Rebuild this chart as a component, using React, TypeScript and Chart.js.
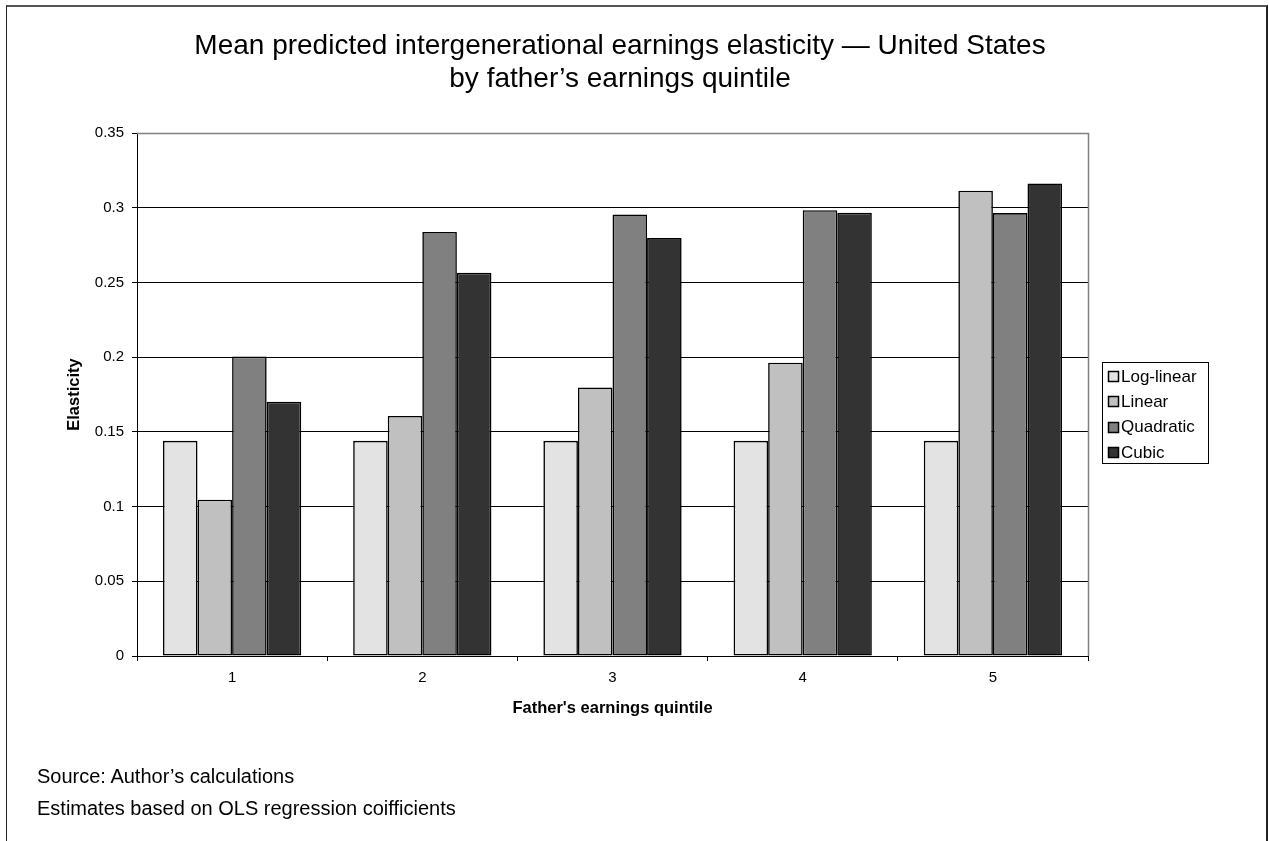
import React, { useEffect, useRef } from "react";
import { Chart, registerables } from "chart.js";

Chart.register(...registerables);

const FONT = '"Liberation Sans", Arial, Helvetica, sans-serif';

const categories = ["1", "2", "3", "4", "5"];
const seriesNames = ["Log-linear", "Linear", "Quadratic", "Cubic"];
const seriesColors = ["#e3e3e3", "#c0c0c0", "#808080", "#333333"];
const logLinear = [0.144, 0.144, 0.144, 0.144, 0.144];
const linear = [0.1046, 0.1606, 0.1797, 0.1963, 0.3114];
const quadratic = [0.2004, 0.2838, 0.2955, 0.2983, 0.2964];
const cubic = [0.1702, 0.2564, 0.2797, 0.2966, 0.3162];
const yMin = 0;
const yMax = 0.35;
const yStep = 0.05;
const titleLines = [
  "Mean predicted intergenerational earnings elasticity \u2014 United States",
  "by father\u2019s earnings quintile",
];
const yTitle = "Elasticity";
const xTitle = "Father's earnings quintile";
const footnotes = [
  "Source: Author\u2019s calculations",
  "Estimates based on OLS regression coifficients",
];

const decorPlugin = {
  id: "decor",
  afterDraw(chart: any) {
    const { ctx, chartArea } = chart;
    ctx.save();
    // plot area border (top and right, grey)
    ctx.strokeStyle = "#808080";
    ctx.lineWidth = 1.5;
    ctx.beginPath();
    ctx.moveTo(chartArea.left, chartArea.top + 0.5);
    ctx.lineTo(Math.round(chartArea.right) + 0.5, chartArea.top + 0.5);
    ctx.lineTo(Math.round(chartArea.right) + 0.5, chartArea.bottom);
    ctx.stroke();

    // title
    ctx.fillStyle = "#000";
    ctx.font = `28px ${FONT}`;
    ctx.textAlign = "center";
    ctx.textBaseline = "middle";
    ctx.fillText(titleLines[0], 620, 46);
    ctx.fillText(titleLines[1], 620, 79);

    // legend
    const bx = Math.round(chartArea.right) + 14;
    const by = 362;
    const bw = 106;
    const bh = 101;
    ctx.strokeStyle = "#000";
    ctx.lineWidth = 1;
    ctx.strokeRect(bx + 0.5, by + 0.5, bw, bh);
    ctx.font = `17px ${FONT}`;
    ctx.textAlign = "left";
    chart.data.datasets.forEach((ds: any, i: number) => {
      const cy = by + 14 + i * 25.3;
      ctx.fillStyle = ds.backgroundColor;
      ctx.fillRect(bx + 6, Math.round(cy - 5), 11, 11);
      ctx.strokeStyle = "#000";
      ctx.lineWidth = 1.5;
      ctx.strokeRect(bx + 6.5, Math.round(cy - 5) + 0.5, 10, 10);
      ctx.fillStyle = "#000";
      ctx.fillText(ds.label, bx + 19, cy + 1);
    });
    ctx.restore();
  },
};

export default function App() {
  const canvasRef = useRef<HTMLCanvasElement | null>(null);

  useEffect(() => {
    if (!canvasRef.current) return;
    const seriesValues = [logLinear, linear, quadratic, cubic];
    const chart = new Chart(canvasRef.current, {
      type: "bar",
      data: {
        labels: categories,
        datasets: seriesNames.map((name, i) => ({
          label: name,
          data: seriesValues[i],
          backgroundColor: seriesColors[i],
          borderColor: "#000",
          borderWidth: 1.6,
          borderSkipped: false,
          barPercentage: 1,
          categoryPercentage: 0.727,
        })),
      },
      options: {
        responsive: false,
        animation: false,
        devicePixelRatio: 1,
        layout: { padding: { left: 0, right: 181, top: 133, bottom: 115 } },
        plugins: {
          legend: { display: false },
          title: { display: false },
          tooltip: { enabled: false },
        },
        scales: {
          x: {
            offset: true,
            afterFit: (scale: any) => {
              scale.height = 70;
            },
            grid: {
              offset: true,
              drawOnChartArea: false,
              drawTicks: true,
              tickLength: 5,
              tickColor: "#000",
              color: "#000",
            },
            border: { display: true, color: "#000", width: 1 },
            ticks: {
              color: "#000",
              font: { family: FONT, size: 15 },
              padding: 8,
            },
            title: {
              display: true,
              text: xTitle,
              color: "#000",
              font: { family: FONT, size: 16.5, weight: "bold" },
              padding: { top: 0, bottom: 8 },
            },
          },
          y: {
            min: yMin,
            max: yMax,
            afterFit: (scale: any) => {
              scale.width = 137;
            },
            grid: {
              color: (c: any) =>
                c.tick && Math.abs(c.tick.value - yMax) < 1e-9 ? "rgba(0,0,0,0)" : "#000",
              tickColor: "#000",
              tickLength: 5,
              lineWidth: 1,
            },
            border: { display: true, color: "#000", width: 1 },
            ticks: {
              stepSize: yStep,
              color: "#000",
              font: { family: FONT, size: 15 },
              padding: 8,
              callback: (v: any) => String(Number(Number(v).toFixed(2))),
            },
            title: {
              display: true,
              text: yTitle,
              color: "#000",
              font: { family: FONT, size: 16.5, weight: "bold" },
              padding: { top: 65, bottom: 0 },
            },
          },
        },
      },
      plugins: [decorPlugin],
    });
    return () => chart.destroy();
  }, []);

  return (
    <div
      style={{
        position: "absolute",
        left: 0,
        top: 0,
        width: 1269,
        height: 841,
        overflow: "hidden",
        background: "#fff",
        fontFamily: FONT,
      }}
    >
      <div
        style={{
          position: "absolute",
          left: 6,
          top: 5,
          width: 1262,
          height: 840,
          boxSizing: "border-box",
          borderTop: "2px solid #555",
          borderLeft: "1px solid #222",
          borderRight: "2px solid #222",
        }}
      />
      <canvas
        ref={canvasRef}
        width={1269}
        height={841}
        style={{ position: "absolute", left: 0, top: 0, width: 1269, height: 841 }}
      />
      {footnotes.map((t, i) => (
        <div
          key={i}
          style={{
            position: "absolute",
            left: 37,
            top: 764 + i * 32,
            fontSize: 20,
            lineHeight: "24px",
            color: "#000",
            whiteSpace: "nowrap",
          }}
        >
          {t}
        </div>
      ))}
    </div>
  );
}
